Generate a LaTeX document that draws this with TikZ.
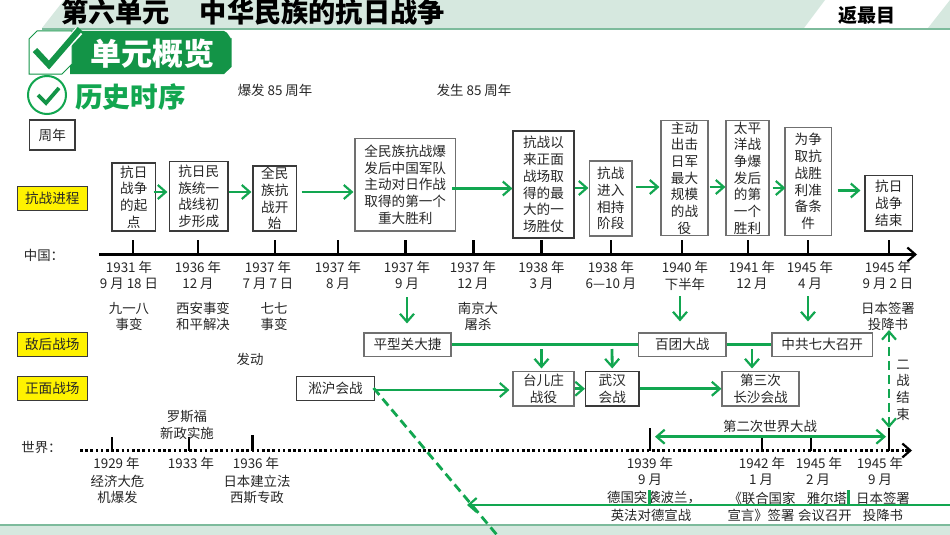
\documentclass[tikz,border=0pt]{standalone}
\usepackage{fontspec}
\setmainfont{Noto Sans CJK SC}
\usetikzlibrary{arrows.meta,calc}
\definecolor{gr}{HTML}{12A650}
\definecolor{dg}{HTML}{139447}
\definecolor{band}{HTML}{D6E8DF}
\definecolor{bline}{HTML}{7DBB9C}
\definecolor{edge}{HTML}{3A3A3A}
\definecolor{edgeg}{HTML}{707070}
\newcounter{lb}
\newcommand{\lbl}[3]{\stepcounter{lb}\node[txt] (lbl\thelb) at (#1,#2) {#3};}
\tikzset{
  txt/.style={inner sep=0pt,align=center,font=\fontsize{13.4}{16.7}\selectfont,text=black!85},
  box/.style={draw=edge,line width=1.1pt,fill=white,inner xsep=0pt,inner ysep=-5pt,align=center,font=\fontsize{13.6}{16.7}\selectfont,text=black!85},
  gbox/.style={box,draw=edgeg},
  tag/.style={draw=edge,line width=.8pt,fill=yellow,inner sep=0pt,minimum width=70.5pt,minimum height=24pt,font=\fontsize{13.6}{16}\selectfont,text=black!85},
  garrow/.style={draw=gr,line width=2.8pt,-{Straight Barb[length=8pt,width=14pt,line width=2.2pt]}},
  gdouble/.style={draw=gr,line width=2.8pt,{Straight Barb[length=8pt,width=14pt,line width=2.2pt]}-{Straight Barb[length=8pt,width=14pt,line width=2.2pt]}},
  gline/.style={draw=gr,line width=2.8pt},
  gdash/.style={dash pattern=on 9pt off 5pt},
  tick/.style={draw=black,line width=2.5pt},
}
\begin{document}
\begin{tikzpicture}[x=1pt,y=-1pt]
\useasboundingbox (0,0) rectangle (950,535);
\clip (0,0) rectangle (950,535);
\fill[white] (0,0) rectangle (950,535);
% header and footer
\fill[band] (42,28) -- (64,0) -- (825,0) -- (804,28) -- cycle;
\fill[band] (928,28) -- (950,0) -- (950,28) -- cycle;
\fill[bline] (42,28) rectangle (950,30);
\fill[band] (0,525) rectangle (950,535);
\fill[bline] (0,524) rectangle (950,526);
\node[inner sep=0pt,font=\fontsize{27.2}{27}\selectfont\bfseries,anchor=west] (title) at (61,12) {第六单元\hspace{30pt}中华民族的抗日战争};
\node[inner sep=0pt,font=\fontsize{19}{19}\selectfont\bfseries] (back) at (866.5,15) {返最目};
% badge
\fill[dg] (70,31) -- (224,31) to[out=0,in=-90] (231.5,38) -- (231.5,67) -- (224,74) -- (70,74) -- cycle;
\node[inner sep=0pt,text=white,font=\fontsize{31}{31}\selectfont\bfseries] (badge) at (152,54) {单元概览};
\draw[dg,line width=1pt,fill=white] (37,31) -- (72,31) -- (72,64) -- (62,74) -- (29,74) -- (29,39) -- cycle;
\draw[white,line width=9pt] (38,51) -- (49,63) -- (79,31);
\draw[dg,line width=6pt] (35,50) -- (49,65) -- (80,29);
\draw[gr,line width=2pt] (47,95) circle (19);
\draw[dg,line width=3.8pt] (38,95) -- (46,103) -- (59,88);
\node[inner sep=0pt,text=gr,font=\fontsize{27.6}{27}\selectfont\bfseries] (hist) at (130.5,97) {历史时序};
% top notes
\lbl{275}{90}{爆发 85 周年}
\lbl{474}{90}{发生 85 周年}
\lbl{250}{359}{发动}
\node[box,minimum width=45.5pt,minimum height=30pt] (zn) at (52.25,135) {周年};
% tags
\node[tag] (tA) at (52.25,198.5) {抗战进程};
\node[tag] (tB) at (52.25,344.5) {敌后战场};
\node[tag] (tC) at (52.25,388.5) {正面战场};
% process boxes
\node[box,minimum width=43.5pt,minimum height=68pt] (a) at (133.75,197) {抗日\\战争\\的起\\点};
\node[box,minimum width=58.5pt,minimum height=69.5pt] (b) at (198.75,196.25) {抗日民\\族统一\\战线初\\步形成};
\node[box,minimum width=43.5pt,minimum height=65pt] (c) at (274.75,198.5) {全民\\族抗\\战开\\始};
\node[gbox,minimum width=100.5pt,minimum height=92.5pt] (d) at (405.25,184.75) {全民族抗战爆\\发后中国军队\\主动对日作战\\取得的第一个\\重大胜利};
\node[box,minimum width=61pt,minimum height=107pt] (e) at (543.5,184.5) {抗战以\\来正面\\战场取\\得的最\\大的一\\场胜仗};
\node[gbox,minimum width=42.5pt,minimum height=75pt] (f) at (610.75,198.5) {抗战\\进入\\相持\\阶段};
\node[gbox,minimum width=47pt,minimum height=115pt] (g) at (684.5,178) {主动\\出击\\日军\\最大\\规模\\的战\\役};
\node[gbox,minimum width=43pt,minimum height=115pt] (h) at (747.5,178) {太平\\洋战\\争爆\\发后\\的第\\一个\\胜利};
\node[gbox,minimum width=46.5pt,minimum height=108pt] (i) at (808.25,181.5) {为争\\取抗\\战胜\\利准\\备条\\件};
\node[box,minimum width=47.5pt,minimum height=55.5pt] (j) at (888.75,203.25) {抗日\\战争\\结束};
% battle boxes
\node[gbox,minimum width=87pt,minimum height=23.5pt] (pxg) at (407.5,344.75) {平型关大捷};
\node[gbox,minimum width=87.5pt,minimum height=23.5pt] (bt) at (682.25,344.75) {百团大战};
\node[gbox,minimum width=100.5pt,minimum height=23.5pt] (zg) at (822.25,344.75) {中共七大召开};
\node[box,minimum width=78pt,minimum height=24pt] (sh) at (335.5,388.5) {淞沪会战};
\node[gbox,minimum width=61pt,minimum height=34.5pt] (tez) at (543.5,388.75) {台儿庄\\战役};
\node[box,minimum width=53.5pt,minimum height=34.5pt] (wh) at (612.25,388.75) {武汉\\会战};
\node[gbox,minimum width=77pt,minimum height=34.5pt] (cs) at (760.5,388.75) {第三次\\长沙会战};
% process arrows
\draw[garrow] ([shift={(-2.5,-5)}]a.east) -- ([shift={(-1.5,-4.25)}]b.west);
\draw[garrow] ([shift={(.5,-4.25)}]b.east) -- ([shift={(-1,-6.5)}]c.west);
\draw[garrow] ([shift={(4.5,-6.5)}]c.east) -- ([shift={(-1,7.25)}]d.west);
\draw[garrow] ([shift={(-4,3.75)}]d.east) -- ([shift={(0,4)}]e.west);
\draw[garrow] ([shift={(0,3.5)}]e.east) -- ([shift={(-.5,-10.5)}]f.west);
\draw[garrow] ([shift={(3.5,-11.5)}]f.east) -- ([shift={(-1,9)}]g.west);
\draw[garrow] ([shift={(1,9)}]g.east) -- ([shift={(0,9)}]h.west);
\draw[garrow] ([shift={(3,10)}]h.east) -- ([shift={(1,6.5)}]i.west);
\draw[garrow] ([shift={(5.5,9)}]i.east) -- ([shift={(-4,-12.75)}]j.west);
% battle lines
\coordinate (d1) at (407,297);
\coordinate (d2) at (680,296);
\coordinate (d3) at (808,296);
\coordinate (d4) at (541.5,349);
\coordinate (d5) at (612,349);
\coordinate (d6) at (752,349);
\draw[gline] (pxg.east) -- (bt.west);
\draw[gline] (bt.east) -- (zg.west);
\draw[garrow] (d1) -- ([shift={(-.5,-9)}]pxg.north);
\draw[garrow] (d2) -- ([shift={(-2.25,-11)}]bt.north);
\draw[garrow] (d3) -- ([shift={(-14.25,-11)}]zg.north);
\draw[garrow] (d4) -- ([shift={(-2,-2.5)}]tez.north);
\draw[garrow] (d5) -- ([shift={(0,-2.5)}]wh.north);
\draw[garrow] (d6) -- ([shift={(-8.5,-2.5)}]cs.north);
\draw[garrow] ([shift={(-1.5,1.5)}]sh.east) -- ([shift={(-3,1.25)}]tez.west);
\draw[garrow] (tez.east) -- (wh.west);
\draw[garrow] (wh.east) -- (cs.west);
% China axis
\coordinate (cs0) at (99,254.5);
\coordinate (ce0) at (917,254.5);
\draw[black,line width=2.8pt,-{Straight Barb[length=8pt,width=14pt,line width=2.2pt]}] (cs0) -- (ce0);
\foreach \x in {133,198,275,338,405.5,473.5,541.5,611,682,748,808,889}
  \draw[tick] (\x,254.5) -- (\x,240);
\lbl{44}{255}{中国：}
% China labels
\lbl{129}{267}{1931 年} \lbl{129}{284}{9 月 18 日} \lbl{129}{308}{九一八} \lbl{129}{324}{事变}
\lbl{198}{267}{1936 年} \lbl{198}{284}{12 月} \lbl{203}{308}{西安事变} \lbl{203}{324}{和平解决}
\lbl{268}{267}{1937 年} \lbl{268}{284}{7 月 7 日} \lbl{274}{308}{七七} \lbl{274}{324}{事变}
\lbl{338}{267}{1937 年} \lbl{338}{284}{8 月}
\lbl{407}{267}{1937 年} \lbl{407}{284}{9 月}
\lbl{473}{267}{1937 年} \lbl{473}{284}{12 月} \lbl{478}{308}{南京大} \lbl{478}{324}{屠杀}
\lbl{541.5}{267}{1938 年} \lbl{541.5}{284}{3 月}
\lbl{611}{267}{1938 年} \lbl{611}{284}{6—10 月}
\lbl{685}{267}{1940 年} \lbl{685}{284}{下半年}
\lbl{752}{267}{1941 年} \lbl{752}{284}{12 月}
\lbl{810}{267}{1945 年} \lbl{810}{284}{4 月}
\lbl{888}{267}{1945 年} \lbl{888}{284}{9 月 2 日} \lbl{888}{308}{日本签署} \lbl{888}{324}{投降书}
% World axis
\coordinate (ws0) at (80,450.5);
\coordinate (we0) at (905,450.5);
\coordinate (we1) at (912,450.5);
\draw[black,line width=3pt,dash pattern=on 2.6pt off 2.6pt] (ws0) -- (we0);
\draw[black,line width=2.2pt,-{Straight Barb[length=8pt,width=14pt,line width=2.2pt]}] (we0) -- (we1);
\foreach \x/\y in {112/437,189/437,252.7/435,650/428,762/438,811/438,889/428}
  \draw[tick] (\x,450.5) -- (\x,\y);
\lbl{41.5}{447}{世界：}
\lbl{116.5}{463}{1929 年} \lbl{117.5}{481}{经济大危} \lbl{117.5}{497}{机爆发}
\lbl{187}{417}{罗斯福} \lbl{187}{433}{新政实施} \lbl{191}{463}{1933 年}
\lbl{256}{463}{1936 年} \lbl{257}{481}{日本建立法} \lbl{257}{497}{西斯专政}
\lbl{650}{463}{1939 年} \lbl{650}{480}{9 月} \lbl{654}{498}{德国突袭波兰，} \lbl{651}{515}{英法对德宣战}
\lbl{762}{463}{1942 年} \lbl{761}{480}{1 月} \lbl{762}{498}{《联合国家} \lbl{761}{515}{宣言》签署}
\lbl{819}{463}{1945 年} \lbl{818}{480}{2 月} \lbl{827}{498}{雅尔塔} \lbl{825}{515}{会议召开}
\lbl{880}{463}{1945 年} \lbl{880}{480}{9 月} \lbl{883}{498}{日本签署} \lbl{883}{515}{投降书}
% WW2 span
\coordinate (w1) at (655,436.7);
\coordinate (w2) at (886,436.7);
\draw[gdouble] (w1) -- (w2);
\lbl{770}{426}{第二次世界大战}
% end of war dashed arrow
\coordinate (v1) at (889,330);
\coordinate (v2) at (889,428);
\draw[gdouble,gdash] (v1) -- (v2);
\lbl{903}{390}{二\\战\\结\\束}
% bottom lines
\coordinate (h1) at (950,505);
\coordinate (h2) at (467,505);
\coordinate (q) at (497,535);
\draw[garrow] (h1) -- (h2);
\draw[gline,gdash] ([shift={(-1.5,-.5)}]sh.east) -- (q);
\fill[gr] (648,490) rectangle (650.5,504);
\fill[gr] (847,490) rectangle (849.5,504);
\end{tikzpicture}
\end{document}
